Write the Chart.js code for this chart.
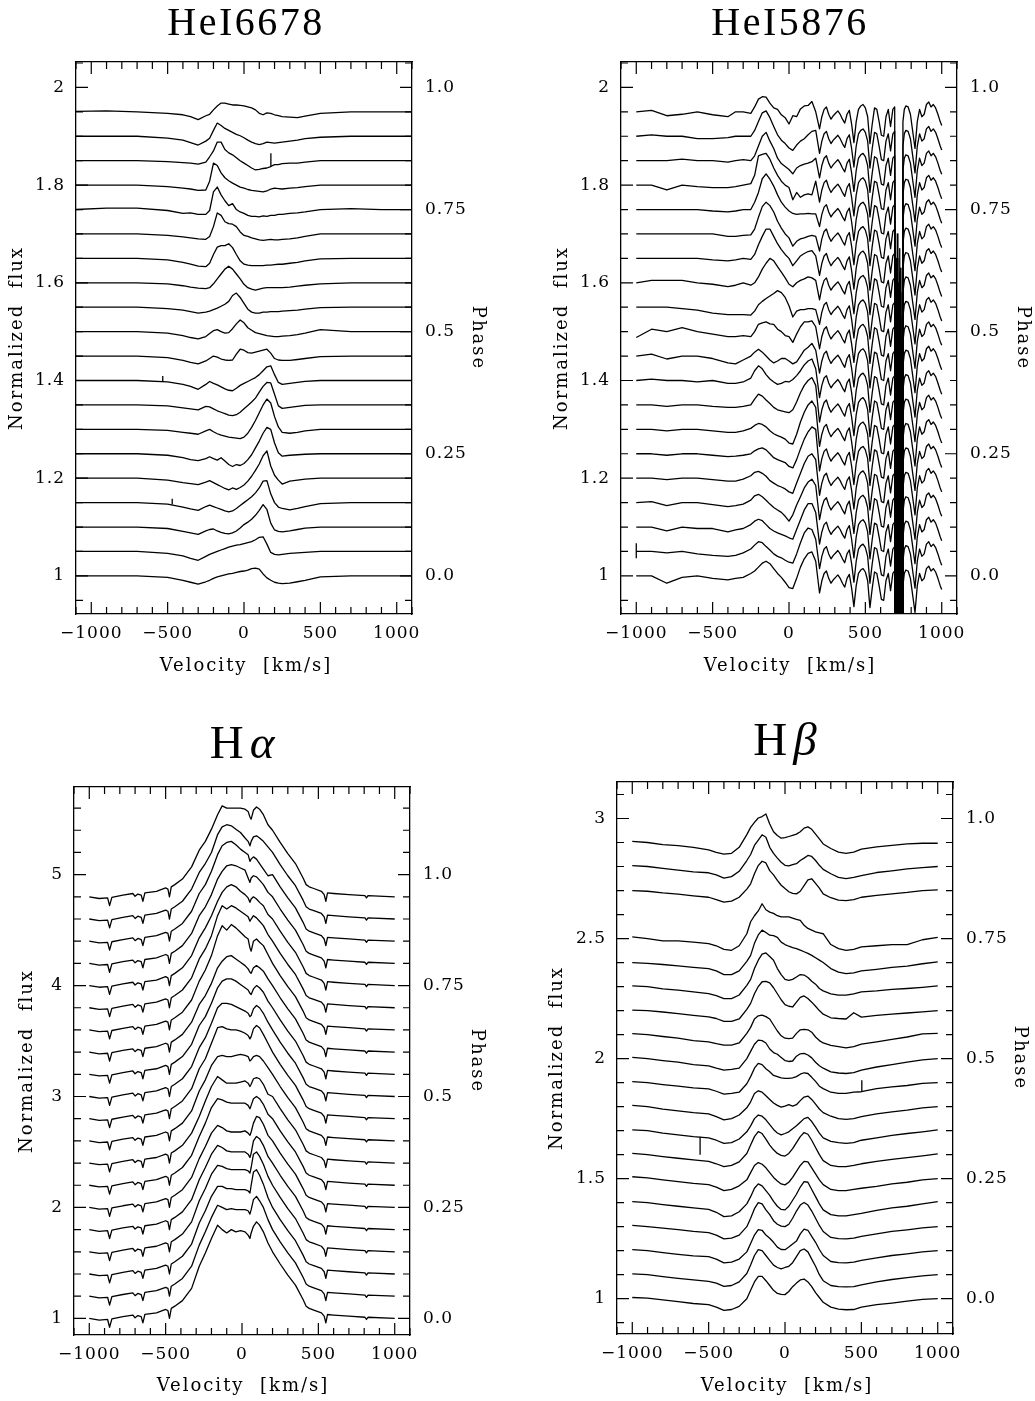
<!DOCTYPE html>
<html>
<head>
<meta charset="utf-8">
<style>
  html, body { margin: 0; padding: 0; background: #fff; }
  body { width: 1035px; height: 1401px; position: relative; overflow: hidden; }
  canvas { position: absolute; }
</style>
<script src="https://cdn.jsdelivr.net/npm/chart.js@4.4.1/dist/chart.umd.min.js"></script>
</head>
<body>
<canvas id="c6678" width="517" height="700" style="left:0px;top:0px"></canvas>
<canvas id="c5876" width="505" height="700" style="left:530px;top:0px"></canvas>
<canvas id="cHa" width="517" height="701" style="left:0px;top:700px"></canvas>
<canvas id="cHb" width="505" height="701" style="left:530px;top:700px"></canvas>
<script>
// all profile values are in % of the continuum, added to the level of each spectrum

// tick labels
const velLabels = [-1000, -500, 0, 500, 1000];
const phaseLabels = [0, 0.25, 0.5, 0.75, 1];
const fluxLabelsHe = [1, 1.2, 1.4, 1.6, 1.8, 2];
const fluxLabelsHa = [1, 2, 3, 4, 5];
const fluxLabelsHb = [1, 1.5, 2, 2.5, 3];

// ---- HeI 6678 ----
const vel6678 = [-1100,-900,-700,-500,-400,-350,-300,-250,-225,-200,-175,-150,-125,-100,-75,-50,-25,0,25,50,75,100,125,150,175,200,225,250,300,350,400,500,700,900,1100];
const lvl6678 = [1.95,1.9,1.85,1.8,1.75,1.7,1.65,1.6,1.55,1.5,1.45,1.4,1.35,1.3,1.25,1.2,1.15,1.1,1.05,1.0];
const he6678 = [
  [0.1,0.2,0,-0.3,-0.6,-1.0,-1.6,-0.8,-0.5,0.4,1.2,1.8,1.8,1.6,1.4,1.4,1.3,1.2,1.0,0.8,0.4,-0.3,-0.6,-0.2,-0.3,-0.6,-0.8,-1.0,-1.1,-1.2,-0.9,-0.3,0,0,0],
  [0,0,0,-0.4,-0.8,-1.3,-1.8,-1.0,-0.4,1.2,2.7,2.2,1.6,1.2,0.8,0.4,0.1,-0.3,-0.8,-1.2,-1.5,-1.7,-1.5,-1.2,-1.3,-1.4,-1.3,-1.2,-1.0,-0.8,-0.5,-0.2,0,0,0],
  [0,0,0,-0.2,-0.4,-0.5,-0.7,-0.3,0.8,2.0,3.8,3.8,2.3,1.6,1.2,0.6,0,-0.5,-1.0,-1.5,-1.9,-1.8,-1.6,-1.5,-1.2,-0.8,-0.8,-0.6,-0.5,-0.5,-0.3,0,0,0,0],
  [0,0,0,-0.3,-0.6,-0.8,-1.1,-1.0,0.8,4.5,4.0,2.5,1.5,0.9,0.4,0,-0.4,-0.6,-0.9,-1.1,-1.2,-1.3,-1.4,-1.2,-0.8,-0.6,-0.7,-0.8,-0.6,-0.5,-0.3,0,0,0,0],
  [0,0.3,0.3,-0.2,-0.8,-0.7,-1.0,-1.0,-0.2,3.6,4.6,3.0,1.8,0.8,1.2,0,-0.5,-0.8,-1.2,-1.4,-1.4,-1.5,-1.3,-1.4,-1.2,-1.2,-1.0,-1.0,-0.8,-0.7,-0.5,0,0.2,0,0],
  [0,0,0,-0.3,-0.6,-0.8,-1.0,-1.1,-0.5,1.5,4.3,3.8,2.5,2.1,2.0,1.5,0.4,-0.3,-0.5,-0.8,-1.0,-1.2,-1.3,-1.2,-1.1,-1.2,-1.2,-1.1,-1.0,-0.8,-0.5,0,0,0,0],
  [0,0,0,-0.3,-0.8,-1.2,-1.6,-1.7,-1.0,0.8,2.3,2.6,2.6,3.0,2.2,0.8,-0.5,-1.2,-1.4,-1.5,-1.5,-1.5,-1.5,-1.4,-1.4,-1.3,-1.2,-1.2,-1.0,-0.8,-0.5,-0.1,0,0,0],
  [0,0,0,-0.2,-0.6,-0.9,-1.1,-1.2,-1.0,-0.2,0.8,1.8,2.8,3.4,2.8,1.8,0.8,-0.3,-1.0,-1.3,-1.5,-1.3,-1.1,-1.0,-1.0,-1.0,-1.0,-1.0,-0.9,-0.7,-0.5,-0.2,0,0,0],
  [0,0,0,-0.3,-0.6,-0.9,-1.2,-1.0,-0.8,-0.5,-0.2,0.2,0.6,1.2,2.4,2.9,2.0,0.8,-0.4,-1.0,-1.2,-1.2,-1.0,-1.0,-0.9,-0.9,-0.9,-0.8,-0.7,-0.6,-0.4,-0.1,0,0,0],
  [0,0,0,-0.3,-0.8,-1.2,-1.5,-1.0,-0.4,0.2,0.4,0,-0.3,-0.2,0.6,1.6,2.4,1.8,0.8,0.3,-0.2,-0.4,-0.6,-0.8,-0.9,-1.0,-1.0,-0.9,-0.8,-0.6,-0.3,0.4,0,0,0],
  [0,0,0,-0.3,-0.9,-1.3,-1.6,-1.0,-0.5,0,-0.2,-0.6,-0.8,-0.9,-0.8,0.4,1.4,1.2,0.7,0.6,0.8,1.0,1.2,1.4,0.6,-0.5,-0.8,-0.9,-0.9,-0.7,-0.5,-0.1,0,0,0],
  [0,0,0,-0.3,-0.8,-1.2,-1.8,-0.8,-0.2,-0.6,-0.9,-1.3,-1.7,-2.0,-2.1,-1.6,-1.0,-0.6,-0.2,0.2,0.6,1.2,2.0,2.8,3.0,1.2,-0.4,-0.8,-0.6,-0.4,-0.2,0,0,0,0],
  [0,0,0,-0.2,-0.6,-0.8,-1.0,-0.3,-0.4,-0.8,-1.2,-1.5,-1.8,-2.1,-2.2,-2.0,-1.5,-0.8,-0.1,0.6,1.4,2.6,3.8,4.6,4.5,2.2,-0.2,-0.7,-0.5,-0.3,-0.1,0,0,0,0],
  [0,0,0,-0.2,-0.6,-0.8,-1.0,-0.3,0,-0.5,-0.9,-1.2,-1.4,-1.6,-1.7,-1.8,-1.9,-1.6,-0.8,0.4,1.8,3.4,5.0,6.2,5.4,2.6,0.5,-0.6,-0.8,-0.6,-0.3,0,0,0,0],
  [0,0,0,-0.3,-0.8,-1.2,-1.4,-1.0,-0.6,-1.0,-1.3,-0.8,-1.5,-2.2,-2.6,-2.2,-2.4,-2.0,-1.2,-0.2,1.2,2.6,4.2,5.4,5.0,2.2,0.2,-0.5,-0.3,-0.2,-0.1,0,0,0,0],
  [0,0,0,-0.4,-0.9,-1.1,-1.3,-0.8,-0.5,-0.9,-1.3,-1.7,-2.1,-2.4,-2.0,-2.3,-1.9,-1.4,-0.6,0.4,1.6,2.9,4.6,5.6,2.5,0.6,-0.4,-1.2,-0.6,-0.4,-0.2,0,0,0,0],
  [0,0,0,-0.3,-0.9,-1.3,-1.6,-0.8,-0.5,-0.8,-1.1,-1.4,-1.7,-1.9,-1.7,-1.2,-0.6,0,0.6,1.2,2.0,3.0,4.4,4.5,1.8,0,-0.9,-1.2,-1.5,-1.2,-0.8,-0.2,0,0,0],
  [0,0,0,-0.3,-0.9,-1.2,-1.5,-0.8,-0.5,-0.4,-0.8,-1.1,-1.3,-1.4,-1.2,-0.8,-0.2,0.5,1.0,1.6,2.4,3.4,4.6,3.6,0.8,-0.6,-0.9,-1.0,-0.8,-0.5,-0.2,0,0,0,0],
  [0,0,0,-0.4,-0.9,-1.4,-1.8,-1.0,-0.6,-0.3,0,0.3,0.6,0.9,1.1,1.3,1.4,1.6,1.8,2.0,2.4,2.9,3.0,1.5,-0.2,-0.6,-0.7,-0.6,-0.4,-0.3,-0.2,0,0,0,0],
  [0,0,0,-0.3,-0.9,-1.3,-1.7,-1.2,-0.9,-0.5,-0.2,0,0.2,0.4,0.5,0.7,0.9,1.0,1.2,1.5,1.6,1.4,0.4,-0.4,-0.9,-1.3,-1.5,-1.6,-1.5,-1.2,-0.9,-0.2,0,0,0]
];
// narrow glitches: [level, velocity, low, high]
const spikes6678 = [[1.85, 176, -1.3, 1.5], [1.4, -532, -0.3, 0.9], [1.15, -470, -0.4, 0.8]];

// ---- HeI 5876 ----
const vel5876 = [-1000,-900,-800,-700,-600,-500,-400,-350,-300,-250,-225,-200,-175,-150,-125,-100,-75,-50,-25,0,25,50,75,100,125,150,175];
const lvl5876 = [1.95,1.9,1.85,1.8,1.75,1.7,1.65,1.6,1.55,1.5,1.45,1.4,1.35,1.3,1.25,1.2,1.15,1.1,1.05,1.0];
const he5876 = [
  [0,0.3,-0.8,-0.5,0,-0.6,-1.0,0,0,-0.3,1.0,2.6,3.1,3.0,1.8,0.8,0.5,-0.6,-1.2,-2.5,-0.8,-1.0,0.6,1.2,1.3,2.1,0],
  [0,0.3,0,0,-0.5,-0.5,-0.3,0,0,0,1.2,3.0,4.8,5.2,3.8,2.0,0.3,-0.8,-1.5,-2.4,-2.9,-1.8,-1.0,-0.5,0.3,1.0,1.2],
  [0,0,0,0.3,0,0,-0.3,0,0.2,0,1.0,3.0,5.0,5.8,4.0,2.5,0.5,-0.6,-1.2,-1.8,-2.7,-1.5,-1.0,-0.7,-0.5,-0.2,0.5],
  [0,0,-1.0,0,-0.3,-0.5,-0.5,-0.3,0,0.3,2.0,6.0,6.3,6.5,5.3,3.5,2.0,0.8,0,-0.5,-3.0,-1.5,-2.5,-2.0,-1.8,-2.0,0.8],
  [0,0,0,0,0,-0.3,-0.5,-0.3,0,0,1.5,3.5,6.3,7.3,6.2,4.8,3.0,1.5,0.5,-0.3,-0.8,-1.0,-0.9,-0.9,-0.8,-0.9,-0.9],
  [0,0,0,0,0,0,-0.5,-0.5,-0.3,-0.2,1.0,3.4,5.6,6.5,5.8,4.5,2.6,1.2,0,-0.8,-2.5,-1.5,-1.0,-0.8,-0.5,-0.3,-0.5],
  [0,0,0,0,0,-0.3,-0.5,-0.3,0,-0.2,0.8,2.8,4.5,6.0,6.0,4.5,3.0,1.8,0.8,0,-1.5,-0.5,0.5,1.0,1.4,1.6,0.5],
  [0,0.5,0.5,0.5,0,-0.3,-0.8,-0.5,0,-0.5,0,1.2,2.8,4.0,5.0,4.5,3.3,2.2,1.0,-0.3,-0.8,0,0.5,0.8,1.2,1.0,0.5],
  [0,0,0,-0.3,-0.6,-1.2,-1.5,-1.5,-1.5,-1.6,-0.8,0.5,1.2,1.8,2.3,2.8,3.4,3.0,2.0,0.3,-2.0,-0.8,-0.5,-0.5,-0.3,-0.3,-0.5],
  [-1.2,0.5,0,0.8,0,-0.5,-1.0,-1.0,-0.8,-1.0,0,1.5,1.8,2.0,1.6,1.5,0.5,0,-0.8,-1.0,-2.2,-0.5,1.0,2.0,2.0,2.2,1.0],
  [0,0.4,-0.6,0,0,-0.5,-1.4,-1.6,-0.8,0,0.8,1.4,0.8,0,-0.8,-1.4,-1.0,-0.5,-0.5,-1.0,-1.6,-1.2,0,1.2,1.8,2.6,1.2],
  [0,0.3,0,0,-0.3,0,-0.6,-0.6,-0.3,0.5,2.0,3.0,2.4,1.2,0.3,-0.3,-0.8,-0.6,-0.2,-0.3,0.2,1.0,2.0,3.2,4.0,4.4,2.4],
  [0,0,-0.3,0,0,-0.3,-0.5,-0.5,-0.3,0,1.2,2.2,1.8,1.0,0.3,-0.5,-1.0,-1.2,-1.4,-1.6,-1.0,0.6,2.5,4.0,5.0,5.6,4.0],
  [0,0,-0.3,0,0,-0.3,-0.6,-0.6,-0.3,0.2,0.8,1.2,1.0,0.5,-0.3,-0.9,-1.3,-1.6,-2.0,-2.8,-3.0,-1.0,1.5,3.5,5.0,5.8,4.5],
  [0,0,-0.3,0,0,-0.3,-0.6,-0.5,-0.3,0,0.6,1.0,1.2,0.8,0,-0.8,-1.2,-1.5,-1.8,-2.6,-2.9,-1.2,1.0,3.0,4.5,5.5,5.0],
  [0,0,-0.3,0,0,-0.3,-0.6,-0.6,-0.2,0.5,1.2,1.4,1.0,0.4,-0.5,-1.0,-1.5,-1.8,-2.2,-2.8,-3.1,-1.0,1.0,3.0,4.5,5.0,3.8],
  [0,0.2,-0.6,0,0,-0.4,-0.8,-0.6,-0.3,0.5,1.4,1.7,1.2,0.5,-0.3,-1.0,-1.5,-2.0,-2.8,-3.8,-2.5,-0.5,1.2,3.0,4.2,4.8,3.5],
  [0,0,-0.8,0,-0.3,-0.3,-1.0,-0.6,-0.3,0.5,1.2,1.6,1.3,0.5,-0.3,-0.8,-1.2,-1.5,-1.8,-2.2,-2.5,-0.5,1.5,3.5,4.8,4.8,3.0],
  [0,0,-0.3,0,-0.5,-0.8,-1.0,-0.8,-0.3,0.5,1.3,2.0,1.8,1.0,0.3,-0.5,-1.0,-1.3,-1.8,-2.2,-2.4,-0.5,1.8,3.8,4.8,4.5,2.5],
  [0,0,-1.5,-0.3,0,-0.5,-0.8,-0.5,-0.3,0.5,1.0,1.8,2.6,3.0,2.5,1.5,0.5,-0.3,-1.3,-2.4,-2.6,-0.5,1.8,3.5,4.6,4.9,3.0]
];
// telluric lines and the saturated interstellar Na D2 line, common to all HeI 5876 spectra
const velTel = [200,215,230,245,260,275,290,305,320,335,350,365,380,395,410,425,440,455,470,485,500,515,530,545,560,575,590,605,620,635,650,665,680,692,697,701,705,709,713,717,721,725,729,733,737,741,746,755,765,780,795,810,825,840,855,870,885,900,915,930,945,960,975,990,1000];
const telluric5876 = [-3.5,-1.0,0.5,1.0,-0.5,-1.5,-0.8,-0.3,0.2,-0.5,-1.5,-2.3,-0.5,0.3,-2.5,-6.3,-2.0,0.5,1.2,1.5,0.8,-1.0,-6.5,-2.5,0.8,0.5,-2.0,-4.8,-5.0,-1.0,0.5,-3.0,0.5,1.0,-88,-30,-88,-25,-88,-35,-88,-28,-88,-32,-88,-88,-2,0.5,1.2,1.0,-0.5,-4.0,-7.5,-2.0,0.5,-1.0,-0.5,1.5,2.0,1.0,1.5,0.8,-0.5,-2.0,-2.8];
const spikes5876 = [[1.05, -1000, -1.4, 1.7]];

// ---- H alpha ----
const velHaL = [-1000,-935,-880,-867,-852,-780,-715,-700,-682,-660,-649,-636,-560,-500,-485,-475,-463,-440,-390,-330];
const wingHaL = [0,-1.5,-1,-8,-0.5,1.5,3,0.5,2.5,1.5,-4,3.5,5,8,7,0,9,11,16,27];
const velHaC = [-280,-240,-200,-160,-130,-100,-70,-40,-10,20,40,52,60,75,95,115,140,170];
const velHaR = [200,250,300,350,400,420,440,470,520,538,549,560,600,700,805,815,825,1000];
const wingHaR = [60,49,39,30,17,11,9,7.5,5,2,-4,3.5,3,2,1,-1,1,0];
const lvlHa = [4.8,4.6,4.4,4.2,4.0,3.8,3.6,3.4,3.2,3.0,2.8,2.6,2.4,2.2,2.0,1.8,1.6,1.4,1.2,1.0];
const coreHa = [
  [42,50,61,74,82,80,80,80,80,79,77,72,70,78,81,79,74,65],
  [42,50,60,76,83,85,84,81,78,73,70,66,70,74,75,73,70,65],
  [43,51,63,78,86,89,90,87,83,80,78,72,74,76,74,70,65,59],
  [43,51,62,76,83,88,89,88,86,84,77,73,77,79,78,75,71,64],
  [43,52,63,76,84,89,91,89,85,82,79,75,78,80,78,75,72,64],
  [44,53,65,83,92,89,92,90,87,84,82,78,80,83,81,78,74,66],
  [44,54,67,85,94,90,95,92,88,84,82,74,71,80,82,79,76,68],
  [43,51,62,76,82,86,87,84,81,78,75,72,71,76,78,76,73,66],
  [44,52,64,78,84,86,86,84,81,78,76,73,72,77,80,78,74,66],
  [44,53,66,80,84,84,83,81,79,77,75,72,73,79,82,80,75,67],
  [45,54,68,82,83,81,80,80,79,77,75,72,74,81,84,82,76,68],
  [45,55,68,76,77,76,76,77,78,77,76,72,73,76,77,76,72,66],
  [42,56,69,78,75,72,72,72,73,74,72,69,71,76,77,76,71,62],
  [44,56,70,78,77,75,74,74,74,74,72,69,72,78,80,78,73,64],
  [44,55,67,74,72,69,68,68,68,69,67,65,68,76,82,81,75,65],
  [45,56,68,76,74,71,70,70,70,70,68,65,69,80,84,82,76,66],
  [46,57,70,78,77,75,74,74,74,74,73,71,76,88,90,86,79,68],
  [46,57,70,79,79,77,77,76,76,76,75,73,80,92,94,89,81,69],
  [46,58,71,82,80,78,79,78,78,78,77,74,78,87,90,86,80,69],
  [47,59,72,84,80,77,80,78,79,78,75,72,77,83,87,84,78,68]
];

// ---- H beta ----
const velHb = [-1000,-900,-800,-700,-600,-500,-450,-400,-350,-300,-250,-225,-200,-175,-150,-125,-100,-75,-50,-25,0,25,50,75,100,125,150,175,200,225,250,300,350,400,450,500,600,700,800,900,1000];
const lvlHb = [2.9,2.8,2.7,2.5,2.4,2.3,2.2,2.1,2.0,1.9,1.8,1.7,1.6,1.5,1.4,1.3,1.2,1.1,1.0];
const hb = [
  [0.5,0,-0.9,-1.3,-2.0,-3.1,-4.1,-4.8,-4.5,-2.0,3.3,6.3,8.4,10.2,10.8,11.9,7.7,4.5,2.9,1.8,2.0,2.5,3.0,3.5,4.5,6.0,6.5,5.5,3.5,1.5,-0.6,-2.5,-4.0,-4.5,-4.0,-2.8,-1.8,-1.2,-0.6,-0.3,-0.3],
  [0.4,0,-0.8,-1.5,-2.2,-2.6,-3.5,-4.8,-4.2,-2.0,2.5,5.0,8.8,11.0,13.2,12.2,8.0,5.5,3.5,1.8,0.5,0.3,0.8,1.2,2.5,3.5,4.6,4.2,2.5,0.5,-1.2,-3.0,-4.5,-5.0,-4.5,-3.8,-2.5,-1.8,-1.0,-0.5,0],
  [0,-0.3,-1.0,-1.5,-2.2,-2.8,-3.8,-4.8,-4.4,-2.8,0.6,2.8,7.0,10.4,12.2,11.5,8.3,6.5,4.2,2.2,0.8,-0.5,-1.2,-1.4,-0.3,2.0,4.4,4.9,3.0,1.0,-1.4,-3.0,-4.0,-4.2,-3.8,-2.8,-2.0,-1.4,-0.8,0,0.3],
  [0.7,0,-1.0,-1.0,-1.5,-2.1,-3.0,-4.5,-4.9,-3.0,2.0,7.0,9.5,11.5,14.5,12.0,11.0,10.5,9.5,9.0,9.0,9.0,8.5,8.0,7.6,5.5,4.2,3.5,2.8,2.4,2.0,-2.5,-4.2,-4.9,-4.5,-3.5,-3.0,-2.5,-2.5,-0.5,0.5],
  [0,-0.3,-0.8,-1.4,-2.0,-2.5,-3.5,-5.0,-5.0,-3.5,0.5,3.0,8.0,11.5,13.5,12.5,11.4,11.2,10.5,8.5,7.5,6.8,6.2,5.8,5.2,4.5,3.8,3.0,2.0,1.0,0,-2.5,-4.0,-4.6,-4.3,-3.5,-2.8,-2.0,-1.5,-0.5,0.3],
  [0.3,0,-1.0,-1.5,-2.2,-2.9,-3.8,-5.0,-5.0,-3.5,0.5,3.0,7.5,11.0,13.5,14.0,12.5,11.0,7.5,5.0,3.0,2.6,3.0,4.0,5.0,4.8,3.8,2.2,1.0,-0.8,-1.8,-3.0,-3.6,-3.6,-3.0,-2.2,-1.8,-1.2,-0.8,-0.3,0.3],
  [0.2,0,-0.6,-1.3,-2.0,-2.6,-3.3,-4.5,-4.5,-3.5,0.5,3.0,7.0,10.0,12.0,12.2,11.5,9.5,7.0,4.5,2.5,1.8,1.5,3.5,5.5,6.1,5.0,3.5,1.8,0,-1.5,-3.0,-3.3,-3.5,-0.9,-2.7,-2.0,-1.5,-1.0,-0.5,0],
  [0.4,0,-0.8,-1.5,-2.5,-3.0,-3.8,-4.4,-4.4,-3.5,0.5,3.0,6.5,7.8,8.1,7.5,6.5,4.0,1.5,-0.5,-1.5,-1.7,-1.5,0.5,2.0,2.2,2.0,1.0,-1.0,-2.5,-3.5,-4.5,-5.0,-5.5,-5.0,-4.0,-3.0,-2.0,-1.0,0.3,0.5],
  [0.5,0,-0.8,-1.5,-2.5,-3.0,-4.0,-4.8,-4.5,-4.0,0,3.0,6.0,7.7,7.5,6.5,4.0,2.5,1.8,0.5,-0.8,-1.2,-1.0,1.0,2.0,2.2,1.5,0.3,-1.5,-3.0,-4.0,-5.5,-6.0,-6.2,-5.8,-4.8,-3.5,-2.5,-1.5,-0.5,0],
  [0.4,0,-0.8,-1.5,-2.2,-2.6,-3.6,-4.8,-4.5,-4.0,-0.5,2.5,6.0,8.0,7.5,5.8,4.5,3.0,2.5,2.0,1.8,1.8,2.0,2.5,3.5,4.1,3.8,2.2,0.5,-1.5,-2.5,-4.0,-4.5,-4.5,-4.0,-3.8,-2.5,-1.8,-1.2,-0.3,0],
  [0.5,0,-1.0,-1.8,-2.5,-3.0,-4.2,-5.5,-5.0,-3.5,-0.5,2.0,5.5,6.6,6.0,4.5,3.0,1.5,0.5,-0.2,0.2,0.8,0.2,0.8,2.5,4.0,4.4,3.0,1.0,-1.0,-2.5,-4.0,-5.0,-5.3,-5.0,-4.2,-3.0,-2.2,-1.5,-0.5,0],
  [0.3,0,-1.0,-1.8,-2.5,-3.0,-4.0,-5.3,-5.0,-3.5,-0.5,2.0,5.0,6.5,6.0,4.5,2.5,0.5,-1.0,-1.8,-1.2,-0.5,0.8,2.0,3.5,5.0,5.5,3.8,1.5,-1.0,-3.0,-4.5,-5.0,-5.3,-5.0,-4.0,-3.0,-2.0,-1.2,-0.5,0.3],
  [0.5,0,-0.8,-1.5,-2.2,-2.8,-3.8,-5.0,-4.5,-3.0,0.5,4.0,7.5,9.6,8.8,6.5,4.0,2.0,0.5,-0.3,-0.6,0.5,2.5,5.0,7.5,9.2,8.5,6.0,3.0,0,-2.5,-4.5,-5.0,-5.0,-4.5,-3.8,-2.8,-2.0,-1.2,-0.5,0.3],
  [0.8,0.3,-0.5,-1.2,-2.0,-2.5,-3.5,-5.0,-4.5,-3.0,-0.5,2.5,5.5,6.7,6.0,4.5,2.5,0.5,-1.0,-2.2,-2.6,-1.5,0.5,3.0,5.5,7.2,7.0,4.5,2.0,-0.5,-2.5,-4.5,-5.0,-5.0,-4.5,-4.0,-3.2,-2.2,-1.5,-0.5,0],
  [0.4,0,-0.8,-1.5,-2.2,-2.8,-4.0,-5.8,-5.5,-3.8,-0.5,2.5,6.0,7.8,7.0,5.0,3.0,0.5,-1.5,-2.8,-3.0,-1.5,1.0,3.5,6.5,8.8,8.5,5.5,2.5,-0.5,-3.0,-5.0,-5.5,-5.5,-5.0,-4.5,-3.2,-2.2,-1.5,-0.5,0.4],
  [0.5,0,-0.6,-1.2,-2.0,-2.5,-3.5,-5.1,-4.8,-3.5,0,3.5,7.5,10.0,9.5,7.0,5.0,2.5,1.0,0.2,0,1.0,3.5,6.5,9.0,10.1,9.0,6.5,3.5,0.5,-2.0,-4.5,-5.0,-5.1,-4.8,-4.0,-3.0,-2.0,-1.3,-0.5,0],
  [0.4,0,-0.8,-1.5,-2.2,-2.5,-3.5,-5.1,-4.8,-3.5,-0.5,3.0,6.5,8.8,8.5,6.5,5.2,3.5,1.5,0.5,0.4,1.5,2.8,4.0,7.0,9.0,8.5,6.0,3.5,0.5,-2.0,-4.5,-5.0,-5.1,-4.8,-4.0,-3.0,-2.0,-1.3,-0.5,0],
  [0.3,0,-0.8,-1.5,-2.2,-2.8,-3.5,-4.9,-4.5,-3.0,0.5,4.0,8.0,10.4,10.0,8.0,6.0,4.0,3.0,2.4,3.0,3.5,5.0,7.5,10.0,10.7,9.5,6.5,3.5,0,-2.5,-4.5,-5.0,-5.1,-5.0,-4.2,-3.0,-2.0,-1.2,-0.5,0],
  [0.5,0.2,-0.5,-1.2,-2.0,-2.5,-3.5,-4.9,-4.5,-3.2,0,3.5,7.0,9.3,9.3,7.5,5.5,3.5,2.2,1.8,1.7,3.0,5.0,6.5,7.8,8.2,7.0,5.0,2.5,0.5,-1.5,-3.5,-4.3,-4.6,-4.5,-3.5,-2.5,-1.8,-1.0,-0.3,0]
];
const spikesHb = [[1.9, 503, -3.8, 1.0], [1.7, -556, -10.0, -2.6]];

// ---------------------------------------------------------------
const velTicks = Array.from({ length: 23 }, (_, i) => -1100 + 100 * i);
function steps(a, b, s) {
  const out = [];
  const n = Math.round((b - a) / s);
  for (let i = 0; i <= n; i++) out.push(Math.round((a + i * s) * 1000) / 1000);
  return out;
}
const has = (arr, v) => arr.some(m => Math.abs(m - v) < 1e-6);
const fmtVel = v => (v < 0 ? '\u2212' : '') + Math.abs(v);
const fmtPhase = p => (Math.abs(p) < 1e-9 ? '0.0' : Math.abs(p - 1) < 1e-9 ? '1.0' : String(p));

const pts = (vel, lvl, row) => vel.map((v, j) => ({ x: v, y: lvl + row[j] / 100 }));
const line = data => ({
  data, xAxisID: 'x', yAxisID: 'y',
  borderColor: '#000', borderWidth: 1.3, borderJoinStyle: 'round',
  pointRadius: 0, fill: false, tension: 0
});
const spikeLines = list => list.map(([l, v, lo, hi]) => line([{ x: v, y: l + lo / 100 }, { x: v, y: l + hi / 100 }]));

const serif = "'DejaVu Serif', serif";

function makeFrame(o) {
  return {
    id: 'frame',
    beforeDraw(chart) { chart.ctx.letterSpacing = '1px'; },
    afterDraw(chart) {
      const { ctx, chartArea: a, scales } = chart;
      ctx.save();
      ctx.letterSpacing = '0px';
      ctx.strokeStyle = '#000';
      ctx.lineWidth = 1.2;
      ctx.beginPath();
      const sets = [['x', velLabels], ['xt', velLabels], ['y', o.yLabels], ['yr', phaseLabels]];
      for (const [id, major] of sets) {
        const s = scales[id];
        for (const t of s.ticks) {
          const p = s.getPixelForValue(t.value);
          const len = has(major, t.value) ? 12 : 7;
          if (id === 'x') { ctx.moveTo(p, a.bottom); ctx.lineTo(p, a.bottom - len); }
          else if (id === 'xt') { ctx.moveTo(p, a.top); ctx.lineTo(p, a.top + len); }
          else if (id === 'y') { ctx.moveTo(a.left, p); ctx.lineTo(a.left + len, p); }
          else { ctx.moveTo(a.right, p); ctx.lineTo(a.right - len, p); }
        }
      }
      ctx.stroke();

      ctx.fillStyle = '#000';
      // title
      ctx.textBaseline = 'alphabetic';
      ctx.textAlign = 'left';
      ctx.letterSpacing = o.titleSpacing + 'px';
      const parts = o.title.map(([t, it]) => ({ t, font: (it ? 'italic ' : '') + o.titleSize + "px 'Liberation Serif', serif" }));
      let w = o.titleGap * (parts.length - 1);
      parts.forEach(p => { ctx.font = p.font; p.w = ctx.measureText(p.t).width; w += p.w; });
      let x = o.titleX - w / 2;
      parts.forEach(p => { ctx.font = p.font; ctx.fillText(p.t, x, o.titleY); x += p.w + o.titleGap; });

      // axis titles
      ctx.font = '18px ' + serif;
      ctx.letterSpacing = '2px';
      ctx.textAlign = 'center';
      ctx.fillText('Velocity  [km/s]', o.velX, o.velY);
      ctx.textBaseline = 'middle';
      const mid = (a.top + a.bottom) / 2;
      ctx.save();
      ctx.translate(o.fluxX, mid);
      ctx.rotate(-Math.PI / 2);
      ctx.fillText('Normalized  flux', 0, 0);
      ctx.restore();
      ctx.save();
      ctx.translate(o.phaseX, mid);
      ctx.rotate(Math.PI / 2);
      ctx.fillText('Phase', 0, 0);
      ctx.restore();
      ctx.restore();
      ctx.letterSpacing = '0px';
    }
  };
}

function build(id, o) {
  const tickFont = { family: serif, size: 17 };
  const edge = { color: '#000', width: 1.3 };
  const noGrid = { display: false, drawTicks: false };
  new Chart(document.getElementById(id), {
    type: 'line',
    data: { datasets: o.datasets },
    options: {
      responsive: false,
      animation: false,
      events: [],
      layout: { padding: { top: o.top, left: 0, right: 0, bottom: 0 } },
      plugins: { legend: { display: false }, tooltip: { enabled: false } },
      scales: {
        x: {
          type: 'linear', position: 'bottom', min: -1100, max: 1100,
          afterBuildTicks: s => { s.ticks = velTicks.map(v => ({ value: v })); },
          afterFit: s => { s.height = o.bottom; },
          grid: noGrid, border: edge,
          ticks: { autoSkip: false, maxRotation: 0, padding: 9, color: '#000', font: tickFont,
                   callback: v => (has(velLabels, v) ? fmtVel(v) : '') }
        },
        xt: {
          type: 'linear', position: 'top', min: -1100, max: 1100,
          afterBuildTicks: s => { s.ticks = velTicks.map(v => ({ value: v })); },
          afterFit: s => { s.height = 0; },
          grid: noGrid, border: edge, ticks: { display: false }
        },
        y: {
          type: 'linear', position: 'left', min: o.yMin, max: o.yMax,
          afterBuildTicks: s => { s.ticks = o.yTicks.map(v => ({ value: v })); },
          afterFit: s => { s.width = o.left; },
          grid: noGrid, border: edge,
          ticks: { autoSkip: false, padding: 11, color: '#000', font: tickFont,
                   callback: v => (has(o.yLabels, v) ? String(v) : '') }
        },
        yr: {
          type: 'linear', position: 'right', min: (o.yMin - 1) / o.k, max: (o.yMax - 1) / o.k,
          afterBuildTicks: s => { s.ticks = o.rTicks.map(v => ({ value: v })); },
          afterFit: s => { s.width = o.right; },
          grid: noGrid, border: edge,
          ticks: { autoSkip: false, padding: 13, color: '#000', font: tickFont,
                   callback: v => (has(phaseLabels, v) ? fmtPhase(v) : '') }
        }
      }
    },
    plugins: [makeFrame(o)]
  });
}

// HeI 6678
build('c6678', {
  datasets: he6678.map((row, i) => line(pts(vel6678, lvl6678[i], row))).concat(spikeLines(spikes6678)),
  top: 62, left: 76, right: 105, bottom: 86,
  yMin: 0.922, yMax: 2.052, k: 1,
  yTicks: steps(0.95, 2.05, 0.05), yLabels: fluxLabelsHe, rTicks: steps(-0.05, 1.05, 0.05),
  title: [['HeI6678', false]], titleSize: 40, titleSpacing: 2.5, titleGap: 0, titleX: 246, titleY: 35,
  velX: 246, velY: 671, fluxX: 17, phaseX: 478
});

// HeI 5876
build('c5876', {
  datasets: he5876.map((row, i) => line(pts(vel5876, lvl5876[i], row).concat(pts(velTel, lvl5876[i], telluric5876))))
    .concat(spikeLines(spikes5876)),
  top: 62, left: 91, right: 78, bottom: 86,
  yMin: 0.922, yMax: 2.052, k: 1,
  yTicks: steps(0.95, 2.05, 0.05), yLabels: fluxLabelsHe, rTicks: steps(-0.05, 1.05, 0.05),
  title: [['HeI5876', false]], titleSize: 40, titleSpacing: 2.5, titleGap: 0, titleX: 260, titleY: 35,
  velX: 260, velY: 671, fluxX: 32, phaseX: 493
});

// H alpha
build('cHa', {
  datasets: coreHa.map((row, i) => line(
    pts(velHaL, lvlHa[i], wingHaL).concat(pts(velHaC, lvlHa[i], row), pts(velHaR, lvlHa[i], wingHaR)))),
  top: 87, left: 74, right: 107, bottom: 66,
  yMin: 0.85, yMax: 5.79, k: 4,
  yTicks: steps(1.0, 5.6, 0.2), yLabels: fluxLabelsHa, rTicks: steps(0, 1.15, 0.05),
  title: [['H', false], ['\u03b1', true]], titleSize: 47, titleSpacing: 0, titleGap: 6, titleX: 242, titleY: 58,
  velX: 243, velY: 691, fluxX: 27, phaseX: 477
});

// H beta
build('cHb', {
  datasets: hb.map((row, i) => line(pts(velHb, lvlHb[i], row))).concat(spikeLines(spikesHb)),
  top: 82, left: 87, right: 82, bottom: 67,
  yMin: 0.853, yMax: 3.152, k: 2,
  yTicks: steps(0.9, 3.1, 0.1), yLabels: fluxLabelsHb, rTicks: steps(-0.05, 1.05, 0.05),
  title: [['H', false], ['\u03b2', true]], titleSize: 47, titleSpacing: 0, titleGap: 6, titleX: 255, titleY: 55,
  velX: 257, velY: 691, fluxX: 27, phaseX: 490
});
</script>
</body>
</html>
